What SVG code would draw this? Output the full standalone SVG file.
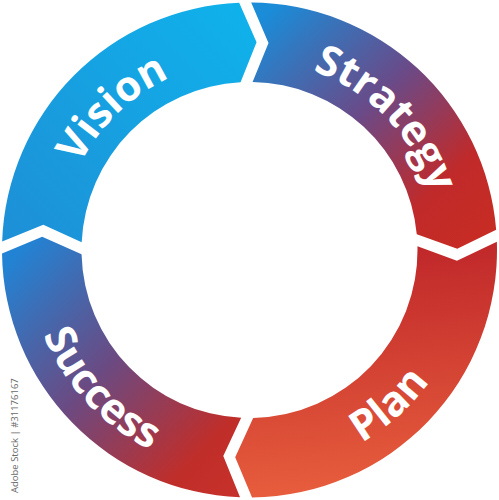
<svg xmlns="http://www.w3.org/2000/svg" width="499" height="500" viewBox="0 0 499 500">
<defs>
<style>
.lbl{font-family:"Open Sans","Liberation Sans",sans-serif;font-weight:700;font-size:42px;fill:#ffffff}
.side{font-family:"Open Sans","Liberation Sans",sans-serif;font-size:9.5px;fill:#6a6a6a}
</style>
<linearGradient id="gV" gradientUnits="userSpaceOnUse" x1="240" y1="0" x2="0" y2="240">
<stop offset="0" stop-color="#0fb2ec"/><stop offset="1" stop-color="#1e8fd6"/>
</linearGradient>
<linearGradient id="gS" gradientUnits="userSpaceOnUse" x1="260" y1="20" x2="470" y2="240">
<stop offset="0" stop-color="#1a8cd8"/><stop offset="0.45" stop-color="#6a4a88"/><stop offset="0.8" stop-color="#c02a2a"/><stop offset="1" stop-color="#c62c24"/>
</linearGradient>
<linearGradient id="gP" gradientUnits="userSpaceOnUse" x1="400" y1="250" x2="420" y2="480">
<stop offset="0" stop-color="#c0282a"/><stop offset="1" stop-color="#e65c3c"/>
</linearGradient>
<linearGradient id="gU" gradientUnits="userSpaceOnUse" x1="10" y1="260" x2="240" y2="480">
<stop offset="0" stop-color="#2283d4"/><stop offset="0.45" stop-color="#6b4a82"/><stop offset="0.85" stop-color="#c02e2a"/><stop offset="1" stop-color="#c6302a"/>
</linearGradient>
<path id="pV" d="M65.1,296.0 A190,190 0 0 1 301.9,67.4"/>
<path id="pS" d="M203.5,65.6 A190,190 0 0 1 432.1,302.4"/>
<path id="pP" d="M180.6,462.1 A223,223 0 0 0 467.6,203.6"/>
<path id="pU" d="M36.2,184.8 A223,223 0 0 0 299.7,467.3"/>
</defs>
<rect width="499" height="500" fill="#ffffff"/>
<g id="connectors"></g>
<g id="vision">
<path fill="url(#gV)" d="M2.15,241.40 A247.5,247.5 0 0 1 239.18,2.72 L256.57,42.37 L240.56,82.24 A168,168 0 0 0 81.68,242.23 L43.28,224.86 Z"/>
<text class="lbl"><textPath href="#pV" startOffset="50%" text-anchor="middle">Vision</textPath></text>
</g>
<g id="strategy">
<path fill="url(#gS)" d="M251.19,2.51 A247.5,247.5 0 0 1 496.17,229.76 L457.25,248.73 L416.77,234.34 A168,168 0 0 0 252.58,82.03 L268.51,43.12 Z"/>
<text class="lbl"><textPath href="#pS" startOffset="50%" text-anchor="middle">Strategy</textPath></text>
</g>
<g id="plan">
<path fill="url(#gP)" d="M496.86,241.75 A247.5,247.5 0 0 1 252.05,497.49 L235.19,457.26 L253.16,417.96 A168,168 0 0 0 417.46,246.34 L456.97,260.69 Z"/>
<text class="lbl"><textPath href="#pP" startOffset="50%" text-anchor="middle">Plan</textPath></text>
</g>
<g id="success">
<path fill="url(#gU)" d="M240.04,497.32 A247.5,247.5 0 0 1 2.02,253.41 L42.17,236.77 L81.55,254.25 A168,168 0 0 0 241.15,417.79 L223.28,456.09 Z"/>
<text class="lbl"><textPath href="#pU" startOffset="50%" text-anchor="middle">Success</textPath></text>
</g>
<text class="side" transform="translate(18,493) rotate(-90)">Adobe Stock | #31176167</text>
</svg>
